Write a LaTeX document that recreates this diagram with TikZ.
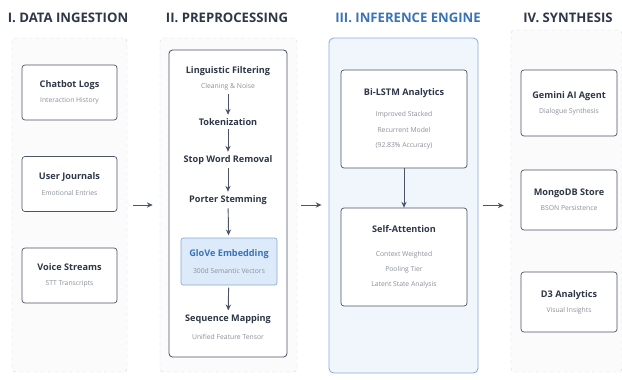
\documentclass[tikz,border=0pt]{standalone}
\usepackage{fontspec}
\setmainfont{Open Sans}
\usetikzlibrary{positioning, arrows.meta, calc}

\definecolor{ink}{HTML}{2E3747}
\definecolor{wire}{HTML}{4B5567}
\definecolor{faint}{HTML}{8A909A}
\definecolor{engine}{HTML}{3A72B8}
\definecolor{enginefill}{HTML}{F1F6FC}
\definecolor{glovefill}{HTML}{DCEAF9}

% card text: bold title, grey caption
\newcommand{\tagtxt}[1]{{\bfseries\color{ink}\fontsize{7.8}{9}\selectfont #1}}
\newcommand{\subtxt}[1]{{\color{faint}\fontsize{5.8}{8}\selectfont #1}}
\newcommand{\cardtxt}[2]{\tagtxt{#1}\\[1pt]\subtxt{#2}}

\begin{document}
\begin{tikzpicture}[
    x=0.03cm, y=-0.03cm,
    >={Stealth[length=5pt,width=4.5pt]},
    lane/.style={draw=gray!30, dashed, rounded corners=3pt, fill=gray!3},
    card/.style={draw=wire, line width=0.6pt, rounded corners=2.5pt, fill=white, align=center},
    head/.style={font=\bfseries\fontsize{11.2}{13}\selectfont, text=ink},
    stepname/.style={align=center, inner sep=1pt},
    flow/.style={->, draw=wire, line width=0.8pt}
]
    \useasboundingbox (0,0) rectangle (622,379);

    % lane titles
    \node[head] (h1) at (68,18) {I. DATA INGESTION};
    \node[head] (h2) at (227,18) {II. PREPROCESSING};
    \node[head, text=engine] (h3) at (408,18) {III. INFERENCE ENGINE};
    \node[head] (h4) at (568,18) {IV. SYNTHESIS};

    % lane backgrounds
    \node[lane, minimum width=115*0.03cm, minimum height=334*0.03cm] (p1) at (69.5,205) {};
    \node[lane, minimum width=137*0.03cm, minimum height=334*0.03cm] (p2) at (228.5,205) {};
    \node[draw=engine!60, line width=0.7pt, rounded corners=4pt, fill=enginefill,
          minimum width=149*0.03cm, minimum height=335*0.03cm] (p3) at (403.5,205.5) {};
    \node[lane, minimum width=111*0.03cm, minimum height=342*0.03cm] (p4) at (566.5,201) {};

    % I. data ingestion
    \node[card, minimum width=95*0.03cm, minimum height=55*0.03cm] (logs) at (69.5,92.5) {\cardtxt{Chatbot Logs}{Interaction History}};
    \node[card, minimum width=95*0.03cm, minimum height=55*0.03cm] (journ) at (69.5,184) {\cardtxt{User Journals}{Emotional Entries}};
    \node[card, minimum width=95*0.03cm, minimum height=55*0.03cm] (voice) at (69.5,275.5) {\cardtxt{Voice Streams}{STT Transcripts}};

    % II. preprocessing chain
    \node[draw=wire, line width=0.7pt, rounded corners=3pt, fill=white,
          minimum width=118*0.03cm, minimum height=307*0.03cm] (chain) at (228,203.5) {};
    \node[stepname] (filt) at (228,78) {\cardtxt{Linguistic Filtering}{Cleaning \& Noise}};
    \node[stepname] (tok) at (228,122) {\tagtxt{Tokenization}};
    \node[stepname] (stop) at (228,160) {\tagtxt{Stop Word Removal}};
    \node[stepname] (stem) at (228,200) {\tagtxt{Porter Stemming}};
    \node[draw=engine!60, line width=0.6pt, rounded corners=2pt, fill=glovefill, align=center,
          minimum width=96*0.03cm, minimum height=47*0.03cm] (glove) at (229,261.5)
          {{\bfseries\color{engine}\fontsize{7.8}{9}\selectfont GloVe Embedding}\\[3pt]\subtxt{300d Semantic Vectors}};
    \node[stepname] (seq) at (228,327) {\tagtxt{Sequence Mapping}\\[4pt]\subtxt{Unified Feature Tensor}};

    \path[flow, shorten <=2pt, shorten >=2pt]
        (filt) edge (tok)
        (tok) edge (stop)
        (stop) edge (stem)
        (stem) edge (glove)
        (glove) edge (seq);

    % III. inference engine
    \node[card, minimum width=126*0.03cm, minimum height=98*0.03cm] (lstm) at (404,119)
        {\tagtxt{Bi-LSTM Analytics}\\[6pt]
         \subtxt{Improved Stacked}\\[1pt]
         \subtxt{Recurrent Model}\\[1pt]
         \subtxt{(92.83\% Accuracy)}};
    \node[card, minimum width=126*0.03cm, minimum height=98*0.03cm] (attn) at (404,257)
        {\tagtxt{Self-Attention}\\[8pt]
         \subtxt{Context Weighted}\\[1pt]
         \subtxt{Pooling Tier}\\[1pt]
         \subtxt{Latent State Analysis}};
    \draw[flow] (lstm) -- (attn);

    % IV. synthesis
    \node[card, minimum width=96*0.03cm, minimum height=66*0.03cm] (gem) at (569,103) {\cardtxt{Gemini AI Agent}{Dialogue Synthesis}};
    \node[card, minimum width=96*0.03cm, minimum height=60*0.03cm] (mongo) at (569,200) {\cardtxt{MongoDB Store}{BSON Persistence}};
    \node[card, minimum width=96*0.03cm, minimum height=60*0.03cm] (d3) at (569,302) {\cardtxt{D3 Analytics}{Visual Insights}};

    % lane to lane
    \draw[flow, shorten <=5pt, shorten >=6pt] (p1.east) -- (p1.east -| p2.west);
    \draw[flow, shorten <=3pt, shorten >=6pt] (p2.east) -- (p2.east -| p3.west);
    \draw[flow, shorten <=4pt, shorten >=6pt] (p3.east) -- (p3.east -| p4.west);
\end{tikzpicture}
\end{document}
